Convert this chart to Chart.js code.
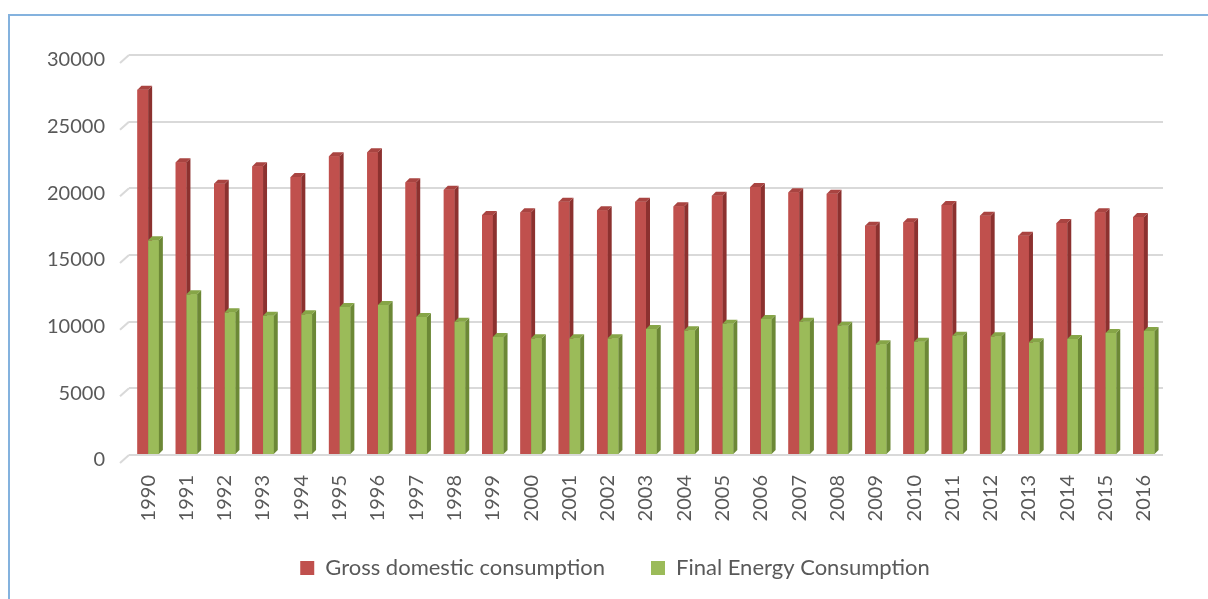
<!DOCTYPE html>
<html>
<head>
<meta charset="utf-8">
<script src="https://cdn.jsdelivr.net/npm/chart.js@4.4.1/dist/chart.umd.min.js"></script>
<style>
    html, body { margin: 0; padding: 0; background: #fff; }
    #wrap { position: relative; width: 1208px; height: 599px; overflow: hidden; }
    #frame {
        position: absolute; left: 8px; top: 14px; width: 1300px; height: 700px;
        border-top: 2px solid #84b2de; border-left: 2px solid #84b2de;
    }
    canvas { position: absolute; left: 0; top: 0; }
</style>
</head>
<body>
<div id="wrap">
    <div id="frame"></div>
    <canvas id="energyChart" width="1208" height="599"></canvas>
</div>
<script>
// values
const years = ['1990', '1991', '1992', '1993', '1994', '1995', '1996', '1997', '1998', '1999',
    '2000', '2001', '2002', '2003', '2004', '2005', '2006', '2007', '2008', '2009',
    '2010', '2011', '2012', '2013', '2014', '2015', '2016'];
const grossConsumption = [27400, 21950, 20350, 21650, 20850, 22400, 22700, 20450, 19900, 18000,
    18200, 19000, 18350, 19000, 18650, 19450, 20100, 19700, 19600, 17200,
    17450, 18750, 17950, 16450, 17400, 18200, 17850];
const finalConsumption = [16100, 12050, 10700, 10450, 10550, 11100, 11250, 10350, 10000, 8850,
    8750, 8750, 8750, 9450, 9350, 9850, 10200, 10000, 9700, 8300,
    8500, 8950, 8900, 8450, 8700, 9150, 9300];
const yTicks = [0, 5000, 10000, 15000, 20000, 25000, 30000];

const textColor = '#595959';
const fontFamily = 'Lato, "Open Sans", sans-serif';
const depth = 4;
const sideColors = ['#8c312f', '#6c8836'];
const topColors = ['#a94441', '#86a547'];
const legendGap = 46;

// fake 3d: side + top faces for every bar, drawn in series order
const bars3d = {
    id: 'bars3d',
    afterDatasetsDraw(chart) {
        const ctx = chart.ctx;
        ctx.save();
        for (let i = 0; i < years.length; i++) {
            chart.data.datasets.forEach((ds, d) => {
                const bar = chart.getDatasetMeta(d).data[i];
                const { x, y, base, width } = bar.getProps(['x', 'y', 'base', 'width'], true);
                const l = x - width / 2;
                const r = x + width / 2;
                ctx.fillStyle = ds.backgroundColor;
                ctx.fillRect(l, y, width, base - y);
                ctx.fillStyle = sideColors[d];
                ctx.beginPath();
                ctx.moveTo(r, y);
                ctx.lineTo(r + depth, y - depth);
                ctx.lineTo(r + depth, base - depth);
                ctx.lineTo(r, base);
                ctx.closePath();
                ctx.fill();
                ctx.fillStyle = topColors[d];
                ctx.beginPath();
                ctx.moveTo(l, y);
                ctx.lineTo(l + depth, y - depth);
                ctx.lineTo(r + depth, y - depth);
                ctx.lineTo(r, y);
                ctx.closePath();
                ctx.fill();
            });
        }
        ctx.restore();
    }
};

// small diagonal at the left end of each gridline (floor/wall look)
const wallStubs = {
    id: 'wallStubs',
    beforeDatasetsDraw(chart) {
        const ctx = chart.ctx;
        const yScale = chart.scales.y;
        const left = chart.chartArea.left;
        ctx.save();
        ctx.strokeStyle = '#d9d9d9';
        ctx.lineWidth = 2;
        yTicks.forEach(v => {
            const py = yScale.getPixelForValue(v);
            ctx.beginPath();
            ctx.moveTo(left - 9, py + 8);
            ctx.lineTo(left, py);
            ctx.stroke();
        });
        ctx.restore();
    }
};

// legend sits left of the plot centre in the original
const legendShift = {
    id: 'legendShift',
    afterLayout(chart) {
        const lg = chart.legend;
        const w = lg.right - lg.left;
        lg.left = 615 - w / 2;
        lg.right = 615 + w / 2;
        lg.top = 568 - 11 - legendGap;
        lg.bottom = chart.height;
    }
};

const ctx = document.getElementById('energyChart').getContext('2d');
window.energyChart = new Chart(ctx, {
    type: 'bar',
    data: {
        labels: years,
        datasets: [{
            label: 'Gross domestic consumption',
            data: grossConsumption,
            backgroundColor: '#c0504d',
            borderWidth: 0
        }, {
            label: 'Final Energy Consumption',
            data: finalConsumption,
            backgroundColor: '#9bbb59',
            borderWidth: 0
        }]
    },
    options: {
        responsive: false,
        animation: false,
        devicePixelRatio: 1,
        categoryPercentage: 0.56,
        barPercentage: 1.0,
        layout: {
            padding: { top: 55, right: 45, bottom: 12, left: 0 }
        },
        scales: {
            x: {
                grid: { display: false, drawTicks: false },
                border: { display: false },
                ticks: {
                    color: textColor,
                    font: { family: fontFamily, size: 20 },
                    minRotation: 90,
                    maxRotation: 90,
                    padding: 20,
                    autoSkip: false
                },
                afterFit(scale) { scale.height = 72; }
            },
            y: {
                min: 0,
                max: 30000,
                grid: { color: '#d9d9d9', lineWidth: 2, drawTicks: false },
                border: { display: false },
                ticks: {
                    stepSize: 5000,
                    color: textColor,
                    font: { family: fontFamily, size: 20 },
                    padding: 24,
                    labelOffset: 5,
                    callback: v => String(v)
                },
                afterFit(scale) { scale.width = 129; }
            }
        },
        plugins: {
            legend: {
                position: 'bottom',
                maxHeight: 60,
                labels: {
                    color: textColor,
                    font: { family: fontFamily, size: 22 },
                    boxWidth: 14,
                    boxHeight: 14,
                    padding: legendGap
                }
            },
            tooltip: { enabled: false }
        }
    },
    plugins: [wallStubs, bars3d, legendShift]
});
</script>
</body>
</html>
